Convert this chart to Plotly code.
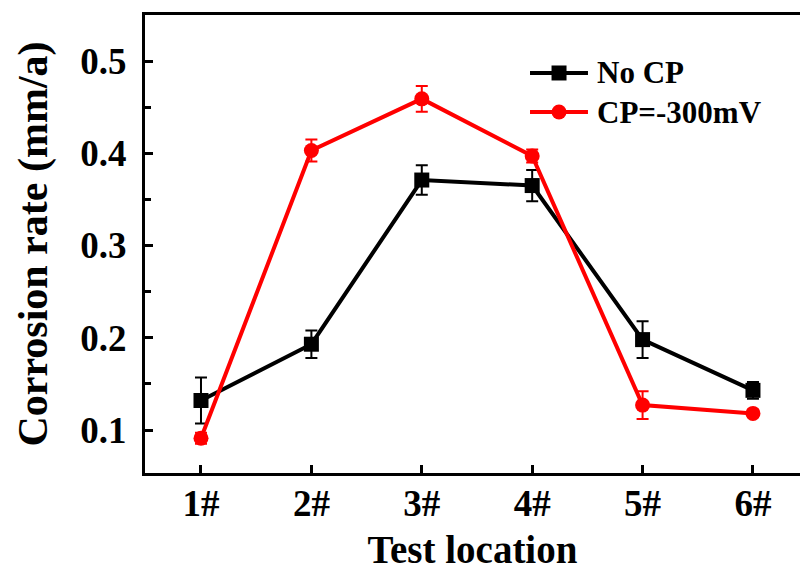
import plotly.graph_objects as go

locations = ["1#", "2#", "3#", "4#", "5#", "6#"]
x_pos = [1, 2, 3, 4, 5, 6]
no_cp = [0.132, 0.193, 0.371, 0.365, 0.198, 0.143]
no_cp_err = [0.025, 0.015, 0.016, 0.017, 0.020, 0.009]
cp_300 = [0.091, 0.403, 0.459, 0.397, 0.127, 0.118]
cp_300_err = [0.006, 0.012, 0.014, 0.007, 0.015, 0.004]
y_ticks = [0.1, 0.2, 0.3, 0.4, 0.5]
y_tick_text = ["0.1", "0.2", "0.3", "0.4", "0.5"]
series_names = ["No CP", "CP=-300mV"]
series_colors = ["black", "#ff0000"]

FONT = "Liberation Serif"

fig = go.Figure()
fig.add_trace(go.Scatter(
    x=x_pos, y=no_cp, name=series_names[0], mode="lines+markers",
    line=dict(color=series_colors[0], width=4),
    marker=dict(symbol="square", size=15, color=series_colors[0]),
    error_y=dict(type="data", array=no_cp_err, visible=True,
                 color=series_colors[0], thickness=2, width=6),
))
fig.add_trace(go.Scatter(
    x=x_pos, y=cp_300, name=series_names[1], mode="lines+markers",
    line=dict(color=series_colors[1], width=4),
    marker=dict(symbol="circle", size=15, color=series_colors[1]),
    error_y=dict(type="data", array=cp_300_err, visible=True,
                 color=series_colors[1], thickness=2, width=6),
))

# manual legend (paper coordinates)
leg_x0, leg_x1, leg_xm, leg_text_x = 0.5878, 0.6763, 0.6321, 0.6870
leg_ys = [0.8734, 0.7882]
shapes = []
annotations = []
for i, (name, col) in enumerate(zip(series_names, series_colors)):
    yy = leg_ys[i]
    shapes.append(dict(type="line", xref="paper", yref="paper",
                       x0=leg_x0, x1=leg_x1, y0=yy, y1=yy,
                       line=dict(color=col, width=4)))
    shapes.append(dict(type="rect" if i == 0 else "circle",
                       xref="paper", yref="paper",
                       xsizemode="pixel", ysizemode="pixel",
                       xanchor=leg_xm, yanchor=yy,
                       x0=-7.5, x1=7.5, y0=-7.5, y1=7.5,
                       fillcolor=col, line=dict(color=col, width=0)))
    annotations.append(dict(text=name, xref="paper", yref="paper",
                            x=leg_text_x, y=yy, xanchor="left", yanchor="middle",
                            showarrow=False,
                            font=dict(family=FONT, size=31, weight="bold", color="black")))

fig.update_layout(
    width=800, height=571,
    margin=dict(l=145, r=0, t=15, b=98),
    paper_bgcolor="white", plot_bgcolor="white",
    font=dict(family=FONT, color="black"),
    showlegend=False,
    shapes=shapes,
    annotations=annotations,
)
fig.update_xaxes(
    range=[0.4928, 6.426],
    tickvals=x_pos, ticktext=locations,
    showline=True, linecolor="black", linewidth=3, mirror=True,
    ticks="inside", ticklen=8, tickwidth=3, tickcolor="black",
    tickfont=dict(family=FONT, size=37, weight="bold"),
    ticklabelstandoff=-4,
    showgrid=False, zeroline=False,
    title=dict(text="Test location", font=dict(family=FONT, size=39, weight="bold"), standoff=16),
)
fig.update_yaxes(
    range=[0.0534, 0.5499],
    tickvals=y_ticks, ticktext=y_tick_text,
    showline=True, linecolor="black", linewidth=3, mirror=False,
    ticks="inside", ticklen=8, tickwidth=3, tickcolor="black",
    minor=dict(ticks="inside", ticklen=6, tickwidth=3, tickcolor="black", dtick=0.05, tick0=0.05, showgrid=False),
    tickfont=dict(family=FONT, size=37, weight="bold"),
    ticklabelstandoff=8,
    showgrid=False, zeroline=False,
    title=dict(text="Corrosion rate (mm/a)", font=dict(family=FONT, size=42, weight="bold"), standoff=20),
)

fig.write_html("out.html")
